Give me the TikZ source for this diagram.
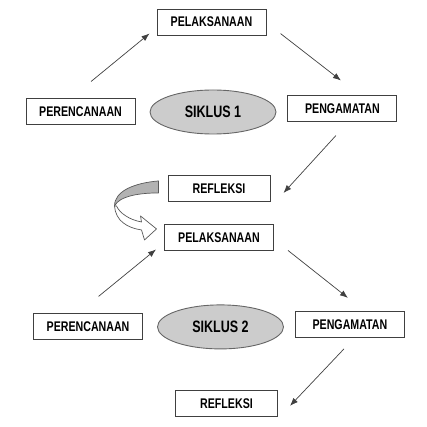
\documentclass[tikz,border=0pt]{standalone}
\usepackage{fontspec}
\setmainfont{Liberation Sans}
\newfontfamily\labelfont{Liberation Sans}[FakeStretch=0.76]
\usetikzlibrary{arrows.meta, positioning, shapes.geometric, calc}

\begin{document}
\begin{tikzpicture}[
    x=1pt, y=-1pt,
    stage/.style = {rectangle, draw=black!75, fill=white, line width=1pt, minimum width=109pt, minimum height=26pt, inner sep=2pt, font=\labelfont\fontsize{14}{15}\selectfont\bfseries},
    short/.style = {stage, minimum width=102pt},
    cycle/.style = {ellipse, draw=black!60, fill=black!20, line width=0.9pt, minimum width=126pt, minimum height=44pt, inner sep=0pt, font=\labelfont\fontsize{16.5}{18}\selectfont\bfseries},
    flow/.style = {draw=black!75, line width=0.7pt, -{Latex[length=8pt, width=6pt]}},
    turn/.style = {draw=black!65, line width=0.7pt, line join=round}
]
    \useasboundingbox (0,0) rectangle (426,427);
    % siklus 1
    \node [cycle] (sk1) at (213,112) {SIKLUS 1};
    \node [stage, left=14pt of sk1] (pr1) {PERENCANAAN};
    \node [stage, above=54pt of sk1, xshift=-1.5pt] (pl1) {PELAKSANAAN};
    \node [stage, right=11pt of sk1, yshift=3pt] (pg1) {PENGAMATAN};
    \node [short, below=41pt of sk1, xshift=6pt] (rf1) {REFLEKSI};
    % siklus 2
    \node [stage, below=22pt of rf1] (pl2) {PELAKSANAAN};
    \node [cycle, below=53pt of pl2, xshift=1.5pt] (sk2) {SIKLUS 2};
    \node [stage, left=14pt of sk2] (pr2) {PERENCANAAN};
    \node [stage, right=11pt of sk2, yshift=2.5pt] (pg2) {PENGAMATAN};
    \node [short, below=41pt of sk2, xshift=6pt] (rf2) {REFLEKSI};
    % arrows
    \draw [flow] ([xshift=10.5pt, yshift=17pt]pr1.north) -- ([xshift=-7pt, yshift=2pt]pl1.south west);
    \draw [flow] ([xshift=14pt, yshift=2pt]pl1.south east) -- ([xshift=-1.5pt, yshift=15pt]pg1.north);
    \draw [flow] ([xshift=-6.5pt, yshift=-13pt]pg1.south) -- ([xshift=13pt, yshift=-4pt]rf1.east);
    \draw [flow] ([xshift=10.5pt, yshift=17pt]pr2.north) -- ([xshift=-8pt, yshift=2pt]pl2.south west);
    \draw [flow] ([xshift=14pt, yshift=1pt]pl2.south east) -- ([xshift=-2pt, yshift=13pt]pg2.north);
    \draw [flow] ([xshift=-6pt, yshift=-11pt]pg2.south) -- ([xshift=12pt, yshift=-2pt]rf2.east);
    % curved arrow to siklus 2
    \begin{scope}[shift={(rf1.west)}]
        \filldraw [turn, fill=white] (-53,17) .. controls (-52,32) and (-40,39) .. (-26,41)
            -- (-23,51) -- (-11,40) -- (-27,27) -- (-26,33)
            .. controls (-38,31) and (-48,24) .. (-51,17) -- cycle;
        \filldraw [turn, fill=black!30] (-9,-8) .. controls (-33,-6) and (-53,2) .. (-53,17)
            .. controls (-48,7) and (-28,4) .. (-9,4) -- cycle;
    \end{scope}
\end{tikzpicture}
\end{document}
